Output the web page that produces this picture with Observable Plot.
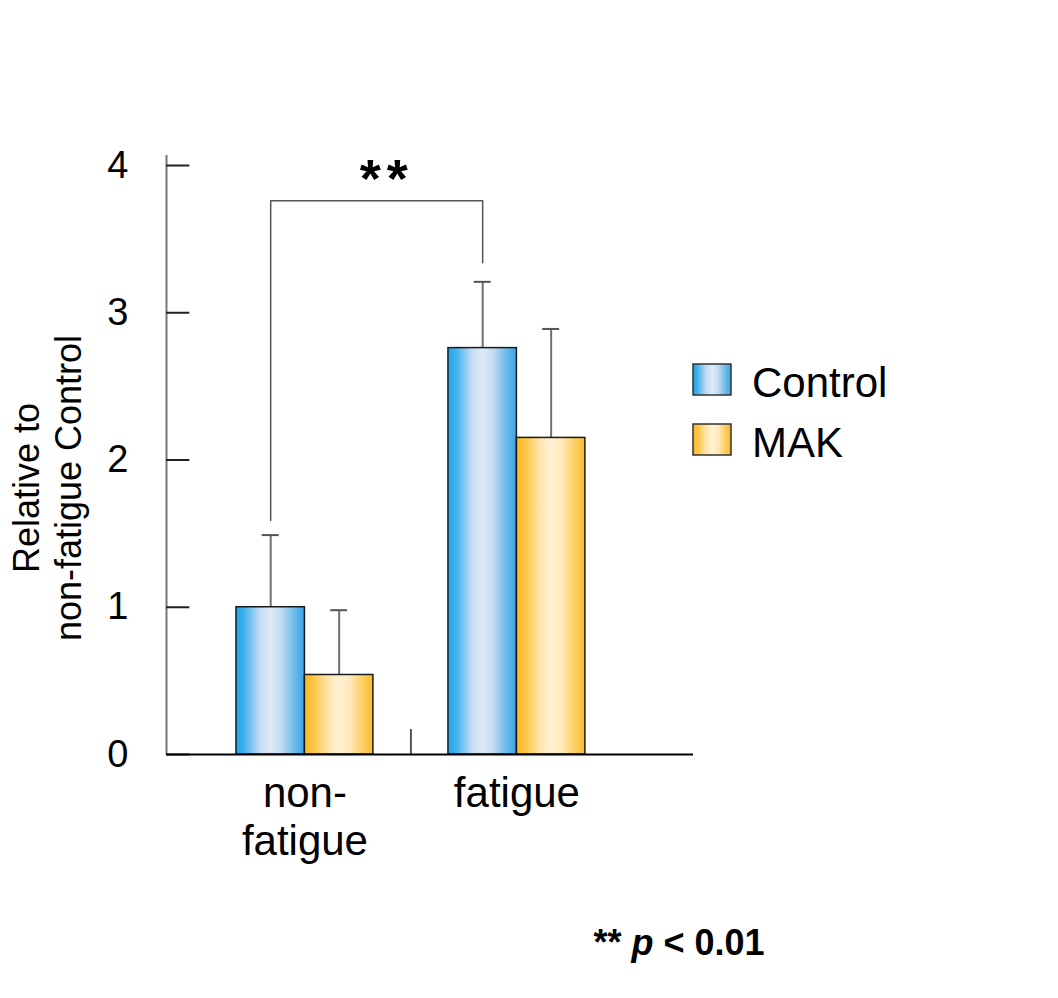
<!DOCTYPE html>
<html><head><meta charset="utf-8">
<script src="https://cdn.jsdelivr.net/npm/d3@7"></script>
<script src="https://cdn.jsdelivr.net/npm/@observablehq/plot@0.6"></script>
<style>body{margin:0;background:#fff;}</style>
</head><body><div id="chart"></div>
<script>
// ---- data ----
const groups = ["non-fatigue", "fatigue"];
const groupLabels = ["non-\nfatigue", "fatigue"];
const seriesNames = ["Control", "MAK"];
const controlValues = [1.00, 2.76];
const controlErrors = [0.49, 0.45];
const makValues = [0.54, 2.15];
const makErrors = [0.44, 0.74];
const yTicks = [0, 1, 2, 3, 4];
const bracketY = [1.59, 3.76, 3.34]; // left leg bottom, top, right leg bottom
const sigLabel = "**";
const yTitle = ["Relative to", "non-fatigue Control"];
const noteLabel = ["** ", "p", " < 0.01"];

// ---- table ----
const bw = 0.323;
const rows = groups.flatMap((g, i) => [
  {group: g, gi: i, series: seriesNames[0], si: 0, value: controlValues[i], err: controlErrors[i]},
  {group: g, gi: i, series: seriesNames[1], si: 1, value: makValues[i], err: makErrors[i]}
]).map(d => ({...d, x1: d.gi + (d.si - 1) * bw, x2: d.gi + d.si * bw, c: d.gi + (d.si - 0.5) * bw, top: d.value + d.err}));
const c0 = 0 - bw / 2, c1 = 1 - bw / 2;
const bracket = [
  {x: c0, y: bracketY[0]}, {x: c0, y: bracketY[1]}, {x: c1, y: bracketY[1]}, {x: c1, y: bracketY[2]}
];
const xDomain = [-0.653, 1.833];
const yDomain = [0, 4.068];
const tickLen = 0.11, capHalf = 0.04;
const font = "Liberation Sans, Arial, Helvetica, sans-serif";

const plot = Plot.plot({
  width: 1058, height: 998,
  marginLeft: 166, marginRight: 365, marginTop: 155, marginBottom: 244,
  x: {domain: xDomain, axis: null},
  y: {domain: yDomain, axis: null},
  style: {fontFamily: font, background: "white", color: "#000"},
  marks: [
    Plot.ruleX([xDomain[0]], {stroke: "#777", strokeWidth: 2}),
    Plot.ruleY(yTicks, {x1: xDomain[0], x2: xDomain[0] + tickLen, stroke: "#222", strokeWidth: 2}),
    Plot.text(yTicks, {x: xDomain[0], y: d => d, text: d => String(d), dx: -38, textAnchor: "end", fontSize: 38, fill: "#000"}),
    Plot.ruleX(rows, {x: "c", y1: "value", y2: "top", stroke: "#707070", strokeWidth: 2}),
    Plot.ruleY(rows, {y: "top", x1: d => d.c - capHalf, x2: d => d.c + capHalf, stroke: "#555", strokeWidth: 2}),
    Plot.rect(rows.filter(d => d.si === 0), {x1: "x1", x2: "x2", y1: 0, y2: "value", fill: "url(#gradControl)", stroke: "#1a1a1a", strokeWidth: 1.5}),
    Plot.rect(rows.filter(d => d.si === 1), {x1: "x1", x2: "x2", y1: 0, y2: "value", fill: "url(#gradMAK)", stroke: "#1a1a1a", strokeWidth: 1.5}),
    Plot.ruleX([0.5], {y1: 0, y2: 0.17, stroke: "#555", strokeWidth: 2}),
    Plot.ruleY([0], {stroke: "#000", strokeWidth: 2}),
    Plot.line(bracket, {x: "x", y: "y", stroke: "#555", strokeWidth: 1.5}),
    Plot.text([sigLabel], {x: (c0 + c1) / 2, y: bracketY[1], text: d => d, dy: -4, lineAnchor: "bottom", fontSize: 54, fontWeight: "bold", fill: "#000"}),
    Plot.text(groupLabels, {x: (d, i) => i, y: 0, text: d => d, dy: 18, lineAnchor: "top", lineHeight: 1.15, fontSize: 42, fill: "#000"})
  ]
});
document.getElementById("chart").appendChild(plot);

const svg = d3.select(plot);
svg.selectAll("text").filter(function() { return this.textContent === sigLabel; })
  .attr("letter-spacing", 6).attr("dx", 10);
const defs = svg.insert("defs", ":first-child");
function grad(id, stops) {
  const g = defs.append("linearGradient").attr("id", id).attr("x1", 0).attr("x2", 1).attr("y1", 0).attr("y2", 0);
  stops.forEach(([o, c]) => g.append("stop").attr("offset", o).attr("stop-color", c));
}
grad("gradControl", [[0, "#1aa5ea"], [0.12, "#43b1ec"], [0.35, "#c3dcf3"], [0.5, "#dfeaf7"], [0.65, "#c6ddf3"], [0.88, "#62b5ea"], [1, "#3aa6e6"]]);
grad("gradMAK", [[0, "#fbb823"], [0.12, "#fcc440"], [0.35, "#fee6b0"], [0.5, "#fff1d3"], [0.65, "#feebc0"], [0.88, "#fcca55"], [1, "#f9bb2e"]]);

// legend
const leg = svg.append("g").attr("font-family", font).attr("font-size", 42).attr("text-anchor", "start");
seriesNames.forEach((s, i) => {
  const y0 = 364 + i * 60;
  leg.append("rect").attr("x", 693).attr("y", y0).attr("width", 38).attr("height", 31)
    .attr("fill", i === 0 ? "url(#gradControl)" : "url(#gradMAK)").attr("stroke", "#333").attr("stroke-width", 1.5);
  leg.append("text").attr("x", 752).attr("y", y0 + 33).attr("text-anchor", "start").text(s);
});

// y title
const yt = svg.append("text").attr("font-family", font).attr("font-size", 36).attr("text-anchor", "middle")
  .attr("transform", "translate(39,488) rotate(-90)");
yt.append("tspan").attr("x", 0).attr("y", 0).text(yTitle[0]);
yt.append("tspan").attr("x", 0).attr("y", 42).text(yTitle[1]);

// note
const nt = svg.append("text").attr("font-family", font).attr("font-size", 36).attr("font-weight", "bold")
  .attr("text-anchor", "middle").attr("x", 679).attr("y", 955);
nt.append("tspan").text(noteLabel[0]);
nt.append("tspan").attr("font-style", "italic").text(noteLabel[1]);
nt.append("tspan").text(noteLabel[2]);
</script>
</body></html>
